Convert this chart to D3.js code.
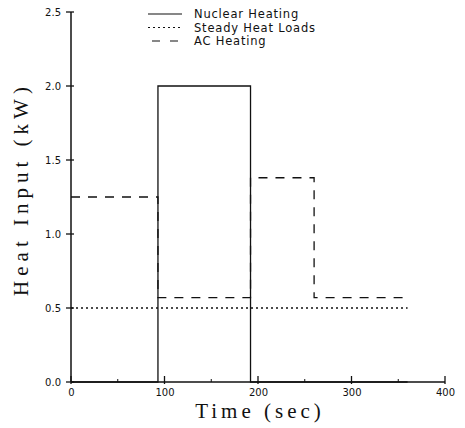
<!DOCTYPE html>
<html>
<head>
<meta charset="utf-8">
<script src="https://cdn.jsdelivr.net/npm/d3@7"></script>
<style>
  body { margin: 0; background: #fff; }
  .tick text { font-family: "DejaVu Sans", sans-serif; font-size: 10px; fill: #111; }
  .title { font-family: "Liberation Serif", serif; font-size: 21px; fill: #111; }
  .legend text { font-family: "DejaVu Sans", sans-serif; font-size: 11.5px; fill: #111; letter-spacing: 0.8px; }
</style>
</head>
<body>
<div id="chart"></div>
<script>
// series: [time (sec), heat input (kW)]
var nuclearHeating = [[0, 0], [93, 0], [93, 2.0], [192, 2.0], [192, 0], [360, 0]]
var steadyHeatLoads = [[0, 0.5], [360, 0.5]]
var acHeating = [[0, 1.25], [93, 1.25], [93, 0.57], [192, 0.57], [192, 1.38], [260, 1.38], [260, 0.57], [360, 0.57]]

var xTicks = [0, 100, 200, 300, 400]
var xMinorTicks = [50, 150, 250, 350]
var yTicks = [0, 0.5, 1.0, 1.5, 2.0, 2.5]
var legendLabels = ["Nuclear Heating", "Steady Heat Loads", "AC Heating"]

var W = 465, H = 428
var margin = { left: 71, right: 20, top: 12, bottom: 46 }
var ink = "#111"

var svg = d3.select("#chart").append("svg")
    .attr("width", W)
    .attr("height", H)

var x = d3.scaleLinear()
    .domain([0, 400])
    .range([margin.left, W - margin.right])

var y = d3.scaleLinear()
    .domain([0, 2.5])
    .range([H - margin.bottom, margin.top])

// tick labels from the d3 axes, lines drawn by hand below
var gx = svg.append("g")
    .attr("transform", "translate(0," + y(0) + ")")
    .call(d3.axisBottom(x).tickValues(xTicks).tickSize(0).tickPadding(10).tickFormat(d3.format("d")))
gx.selectAll(".tick text").attr("dy", "0.4em")
gx.select(".domain").remove()

var gy = svg.append("g")
    .attr("transform", "translate(" + x(0) + ",0)")
    .call(d3.axisLeft(y).tickValues(yTicks).tickSize(0).tickPadding(10).tickFormat(d3.format(".1f")))
gy.select(".domain").remove()

var line = d3.line()
    .x(d => x(d[0]))
    .y(d => y(d[1]))

var series = [
    { name: legendLabels[0], data: nuclearHeating, dash: null },
    { name: legendLabels[1], data: steadyHeatLoads, dash: "2,3" },
    { name: legendLabels[2], data: acHeating, dash: "9,8" }
]

svg.selectAll(".series")
    .data(series)
    .enter()
        .append("path")
        .attr("class", "series")
        .attr("d", d => line(d.data))
        .attr("fill", "none")
        .attr("stroke", ink)
        .attr("stroke-width", 1.3)
        .attr("stroke-dasharray", d => d.dash)

// axis lines
svg.append("line")
    .attr("x1", x(0)).attr("x2", x(400))
    .attr("y1", y(0)).attr("y2", y(0))
    .attr("stroke", ink).attr("stroke-width", 1.5)
svg.append("line")
    .attr("x1", x(0)).attr("x2", x(0))
    .attr("y1", y(0)).attr("y2", y(2.5))
    .attr("stroke", ink).attr("stroke-width", 1.5)

// x ticks point up into the plot
svg.selectAll(".xt")
    .data(xTicks)
    .enter()
        .append("line")
        .attr("class", "xt")
        .attr("x1", d => x(d)).attr("x2", d => x(d))
        .attr("y1", y(0) + 2).attr("y2", y(0) - 6)
        .attr("stroke", ink).attr("stroke-width", 1.3)
svg.selectAll(".xm")
    .data(xMinorTicks)
    .enter()
        .append("line")
        .attr("class", "xm")
        .attr("x1", d => x(d)).attr("x2", d => x(d))
        .attr("y1", y(0)).attr("y2", y(0) - 3)
        .attr("stroke", ink).attr("stroke-width", 1)

// y ticks cross the axis
svg.selectAll(".yt")
    .data(yTicks)
    .enter()
        .append("line")
        .attr("class", "yt")
        .attr("x1", x(0) - 5).attr("x2", x(0) + 3)
        .attr("y1", d => y(d)).attr("y2", d => y(d))
        .attr("stroke", ink).attr("stroke-width", 1.3)

// legend
var legend = svg.append("g").attr("class", "legend")
var lg = legend.selectAll("g")
    .data(series)
    .enter()
        .append("g")
        .attr("transform", (d, i) => "translate(148," + (14 + i * 13.5) + ")")

lg.append("line")
    .attr("x1", (d, i) => i == 2 ? 4 : 0)
    .attr("x2", 34)
    .attr("y1", 0).attr("y2", 0)
    .attr("stroke", ink)
    .attr("stroke-width", 1.2)
    .attr("stroke-dasharray", d => d.dash == "9,8" ? "8,10" : d.dash)

lg.append("text")
    .attr("x", 46)
    .attr("y", 0)
    .attr("dy", "0.35em")
    .text(d => d.name)

// axis titles
svg.append("text")
    .attr("class", "title")
    .attr("x", 260)
    .attr("y", 418)
    .attr("text-anchor", "middle")
    .attr("letter-spacing", "4px")
    .text("Time (sec)")

svg.append("text")
    .attr("class", "title")
    .attr("transform", "translate(28,189) rotate(-90)")
    .attr("text-anchor", "middle")
    .attr("letter-spacing", "5px")
    .text("Heat Input (kW)")
</script>
</body>
</html>
